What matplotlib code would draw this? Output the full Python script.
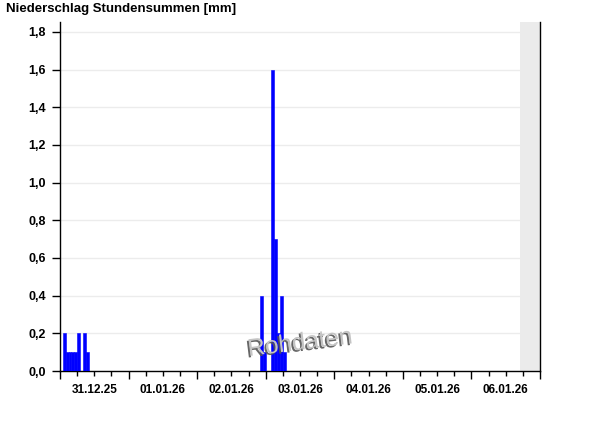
import datetime as dt
import matplotlib
matplotlib.use("Agg")
import matplotlib.pyplot as plt
import matplotlib.dates as mdates
import matplotlib.ticker as mticker
import matplotlib.patheffects as pe

# hourly precipitation sums (start of hour, mm)
hours = ["31.12.25 01:00", "31.12.25 02:00", "31.12.25 03:00", "31.12.25 04:00",
         "31.12.25 05:00", "31.12.25 06:00", "31.12.25 07:00", "31.12.25 08:00",
         "31.12.25 09:00",
         "02.01.26 22:00", "02.01.26 23:00", "03.01.26 00:00", "03.01.26 01:00",
         "03.01.26 02:00", "03.01.26 03:00", "03.01.26 04:00", "03.01.26 05:00",
         "03.01.26 06:00"]
precip = [0.2, 0.1, 0.1, 0.1, 0.1, 0.2, 0.0, 0.2, 0.1,
          0.4, 0.1, 0.0, 0.0, 1.6, 0.7, 0.2, 0.4, 0.1]

yticks = [0.0, 0.2, 0.4, 0.6, 0.8, 1.0, 1.2, 1.4, 1.6, 1.8]
ytick_labels = ["0,0", "0,2", "0,4", "0,6", "0,8", "1,0", "1,2", "1,4", "1,6", "1,8"]

t_start = "31.12.25 00:00"
t_end = "07.01.26 00:00"
t_now = "06.01.26 17:00"

fmt = "%d.%m.%y %H:%M"
def tnum(s):
	return mdates.date2num(dt.datetime.strptime(s, fmt))

plt.rcParams['font.family'] = ['Liberation Sans', 'DejaVu Sans']

fig = plt.figure(figsize=(6.0, 4.26), dpi=100)
ax = fig.add_axes([60/600., 55/426., 480/600., 349/426.])

x = [tnum(h) for h in hours]
one_hour = 1.0/24
ax.bar(x, precip, width=one_hour, align='edge', color='#0000ff', edgecolor='#0000ff',
	linewidth=0.4, zorder=3)

# future part of the window
ax.axvspan(tnum(t_now), tnum(t_end), color='#ebebeb', linewidth=0, zorder=1)

ax.set_xlim(tnum(t_start), tnum(t_end))
ax.set_ylim(0, 1.853)

ax.set_yticks(yticks)
ax.set_yticklabels(ytick_labels)
ax.yaxis.grid(True, color='#ececec', linewidth=1, zorder=0)
ax.set_axisbelow(True)

ax.xaxis.set_major_locator(mdates.DayLocator())
ax.xaxis.set_major_formatter(mticker.NullFormatter())
ax.xaxis.set_minor_locator(mdates.HourLocator(byhour=[6, 12, 18]))
def noon_label(v, pos):
	d = mdates.num2date(v)
	if d.hour == 12:
		return d.strftime("%d.%m.%y")
	return ""
ax.xaxis.set_minor_formatter(mticker.FuncFormatter(noon_label))

ax.tick_params(axis='x', which='major', length=6, width=1, direction='out')
ax.tick_params(axis='x', which='minor', length=3.6, width=1, direction='out', pad=5.5,
	labelsize=8.5)
ax.tick_params(axis='y', which='major', length=6, width=1, direction='out', pad=4,
	labelsize=9)
for lab in ax.get_xticklabels(minor=True) + ax.get_yticklabels():
	lab.set_fontweight('bold')

ax.spines['top'].set_visible(False)
for s in ['left', 'bottom', 'right']:
	ax.spines[s].set_color('black')
	ax.spines[s].set_linewidth(1)

fig.text(6/600., 1 - 9/426., "Niederschlag Stundensummen [mm]", fontsize=9.5,
	fontweight='bold', va='center', ha='left')

# watermark
ax.text(tnum("03.01.26 12:00"), 0.145, "Rohdaten", fontsize=17.5, color='#c4c4c4',
	rotation=7, ha='center', va='center', zorder=5,
	path_effects=[pe.withSimplePatchShadow(offset=(-1.2, -1.2), shadow_rgbFace='#555555', alpha=0.9)])

fig.savefig("out.png", dpi=100)
